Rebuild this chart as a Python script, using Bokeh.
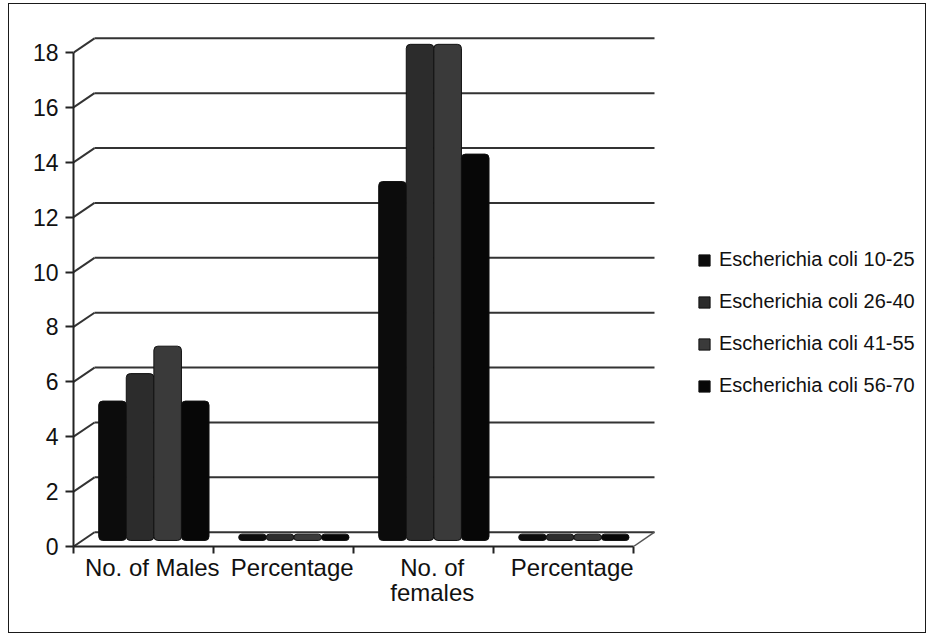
from bokeh.plotting import figure
from bokeh.models import Range1d, FixedTicker, Legend, LegendItem, ColumnDataSource
from bokeh.embed import file_html
from bokeh.resources import INLINE

# ---- data ----
categories = ["No. of Males", "Percentage", "No. of\nfemales", "Percentage"]
series_names = ["Escherichia coli 10-25", "Escherichia coli 26-40",
                "Escherichia coli 41-55", "Escherichia coli 56-70"]
ecoli_10_25 = [5, 0.15, 13, 0.15]
ecoli_26_40 = [6, 0.15, 18, 0.15]
ecoli_41_55 = [7, 0.15, 18, 0.15]
ecoli_56_70 = [5, 0.15, 14, 0.15]
y_ticks = [0, 2, 4, 6, 8, 10, 12, 14, 16, 18]

series_values = [ecoli_10_25, ecoli_26_40, ecoli_41_55, ecoli_56_70]
colors = ["#0c0c0c", "#2c2c2c", "#3a3a3a", "#070707"]

FONT = "Liberation Sans"
n_cat = len(categories)
UNIT_PX = 140.0
FRAME_W = 854
X_END = FRAME_W / UNIT_PX
DX, DY = 0.15, 0.52          # 3-D back-wall offset (in data units)
BASE, TOPADD = 0.22, 0.30    # bar floor depth offset
GROUP_OFF, BAR_W = 0.18, 0.197
LABEL_SHIFT = 0.0625

p = figure(width=918, height=630, output_backend="svg", toolbar_location=None,
           x_range=Range1d(0, X_END), y_range=Range1d(0, 18.95),
           min_border_left=64, min_border_right=0, min_border_top=22,
           min_border_bottom=88, background_fill_color="white",
           border_fill_color="white", outline_line_color=None,
           styles={"border": "1px solid #1a1a1a", "margin-left": "8px",
                   "margin-top": "3px"})
p.xgrid.visible = False
p.ygrid.visible = False

# ---- back wall gridlines with 3-D connectors ----
n_t = len(y_ticks)
p.segment(x0=[0] * n_t, y0=y_ticks, x1=[DX] * n_t,
          y1=[v + DY for v in y_ticks], line_color="#333333", line_width=2)
p.segment(x0=[DX] * n_t, y0=[v + DY for v in y_ticks],
          x1=[n_cat + DX] * n_t, y1=[v + DY for v in y_ticks],
          line_color="#333333", line_width=2)
# floor right edge
p.segment(x0=[n_cat], y0=[0], x1=[n_cat + DX], y1=[DY], line_color="#555555", line_width=1.5)

# ---- bars ----
renderers = []
for s, (vals, col) in enumerate(zip(series_values, colors)):
    xs = [c + GROUP_OFF + (s + 0.5) * BAR_W for c in range(n_cat)]
    src = ColumnDataSource(dict(x=xs, top=[v + TOPADD for v in vals],
                                bottom=[BASE] * n_cat))
    r = p.vbar(x="x", top="top", bottom="bottom", width=BAR_W, source=src,
               fill_color=col, line_color="#111111", line_width=1,
               border_radius=4)
    renderers.append(r)

# ---- axes ----
yax = p.yaxis[0]
yax.ticker = FixedTicker(ticks=y_ticks)
yax.bounds = (0, 18)
yax.axis_line_color = "#222222"
yax.axis_line_width = 2
yax.major_tick_line_color = "#222222"
yax.major_tick_line_width = 2
yax.major_tick_out = 8
yax.major_tick_in = 0
yax.minor_tick_line_color = None
yax.major_label_standoff = 7
yax.major_label_text_font = FONT
yax.major_label_text_font_size = "23px"
yax.major_label_text_color = "#111111"

label_ticks = [c + 0.5 + LABEL_SHIFT for c in range(n_cat)]
xax = p.xaxis[0]
xax.ticker = FixedTicker(ticks=label_ticks, minor_ticks=list(range(n_cat + 1)))
xax.major_label_overrides = {t: lab for t, lab in zip(label_ticks, categories)}
xax.bounds = (0, n_cat)
xax.axis_line_color = "#222222"
xax.axis_line_width = 2
xax.major_tick_line_color = None
xax.minor_tick_line_color = "#222222"
xax.minor_tick_line_width = 2
xax.minor_tick_out = 7
xax.minor_tick_in = 0
xax.major_label_standoff = 0
xax.major_label_text_font = FONT
xax.major_label_text_font_size = "24px"
xax.major_label_text_line_height = 0.95
xax.major_label_text_color = "#111111"

# ---- legend (inside the wide frame, right of the plotted wall) ----
legend = Legend(items=[LegendItem(label=n, renderers=[r]) for n, r in zip(series_names, renderers)],
                location=(624, 149), orientation="vertical",
                label_text_font=FONT, label_text_font_size="20px",
                label_text_color="#111111",
                glyph_width=14, glyph_height=14, label_standoff=8,
                spacing=19, padding=0, margin=0,
                border_line_color=None, background_fill_alpha=0)
p.add_layout(legend)

open("out.html", "w").write(file_html(p, INLINE))
